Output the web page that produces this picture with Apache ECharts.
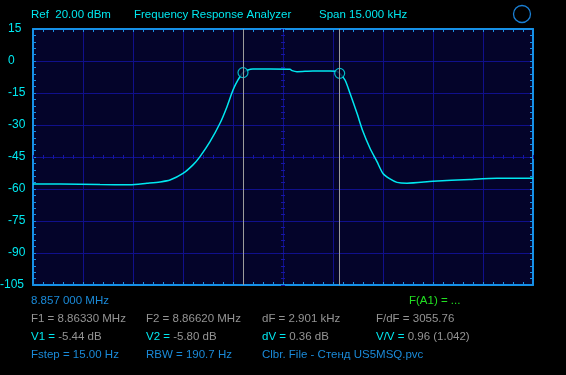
<!DOCTYPE html>
<html>
<head>
<meta charset="utf-8">
<script src="https://cdn.jsdelivr.net/npm/echarts@6/dist/echarts.min.js"></script>
<style>
html,body{margin:0;padding:0;background:#000;}
#c{width:566px;height:375px;}
</style>
</head>
<body>
<div id="c"></div>
<script>
// Frequency offset from 8.857 000 MHz start, in kHz (span 15 kHz)
const freqKHz = [0,0.81,2.01,2.91,3.42,3.81,4.11,4.5,4.8,5.01,5.31,5.61,5.82,6.0,6.15,6.3,6.45,6.6,7.11,7.71,7.77,7.92,8.4,8.91,9.1,9.2,9.36,9.51,9.72,9.9,10.11,10.32,10.5,10.71,10.92,11.22,12.0,13.11,13.92,15];
const levelDb = [-57.6,-57.7,-57.9,-58.0,-57.3,-56.7,-55.8,-52.7,-48.7,-44.8,-37.8,-29.2,-21.4,-13.6,-8.9,-5.44,-4.2,-3.8,-3.8,-3.9,-4.5,-5.0,-4.7,-4.7,-4.8,-5.8,-8.9,-15.1,-24.5,-33.1,-40.9,-47.2,-52.7,-55.3,-56.9,-57.3,-56.4,-55.5,-55.0,-55.0];
const markerFreq = [6.3, 9.2];
const markerLevel = [-5.44, -5.80];
const yTicks = [15,0,-15,-30,-45,-60,-75,-90,-105];
const xRange = [0, 15];

const BORDER = '#1690e6';
const GRIDC = '#10108c';
const CROSS = '#1616a8';
const CYAN = '#00e8f0';
const GREY = '#949494';
const BLUE = '#1a8ad8';
const GREEN = '#22e022';
const FONTF = 'Liberation Sans, Arial, sans-serif';
const FONT = '11.5px ' + FONTF;

const yMin = yTicks[yTicks.length-1], yMax = yTicks[0], yStep = yTicks[0]-yTicks[1];
const xStep = (xRange[1]-xRange[0])/10;
const yMinor = yStep/5, xMinor = xStep/5;

function tickX(extra){
  return Object.assign({
    type:'value', min:xRange[0], max:xRange[1], interval:xMinor,
    axisLabel:{show:false}, splitLine:{show:false},
    axisLine:{show:true, onZero:false, lineStyle:{color:BORDER, width:2}},
    axisTick:{show:true, inside:true, length:3, lineStyle:{color:BORDER, width:1}}
  }, extra);
}
function tickY(extra){
  return Object.assign({
    type:'value', min:yMin, max:yMax, interval:yMinor,
    axisLabel:{show:false}, splitLine:{show:false},
    axisLine:{show:true, onZero:false, lineStyle:{color:BORDER, width:2}},
    axisTick:{show:true, inside:true, length:3, lineStyle:{color:BORDER, width:1}}
  }, extra);
}
const crossLine = {show:false, onZero:false};

const chart = echarts.init(document.getElementById('c'), null, {renderer:'canvas'});
chart.setOption({
  backgroundColor:'#000',
  animation:false,
  grid:{left:33, right:33, top:29, bottom:90, show:true, backgroundColor:'#04042a', borderWidth:0,
    containLabel:false, outerBoundsMode:'none'},
  xAxis:[
    {type:'value', min:xRange[0], max:xRange[1], interval:xStep, position:'bottom',
      axisLabel:{show:false}, axisTick:{show:false}, axisLine:{show:false, onZero:false},
      splitLine:{show:true, lineStyle:{color:GRIDC, width:1}}},
    tickX({position:'bottom'}),
    tickX({position:'top'}),
    tickX({position:'bottom', offset:-128, axisLine:crossLine, axisTick:{show:true, inside:false, length:2, lineStyle:{color:CROSS}}}),
    tickX({position:'bottom', offset:-128, axisLine:crossLine, axisTick:{show:true, inside:true, length:2, lineStyle:{color:CROSS}}})
  ],
  yAxis:[
    {type:'value', min:yMin, max:yMax, interval:yStep, position:'left',
      axisTick:{show:false}, axisLine:{show:false, onZero:false},
      splitLine:{show:true, lineStyle:{color:GRIDC, width:1}},
      axisLabel:{show:true, color:CYAN, fontFamily:FONTF, fontSize:12, align:'right', margin:8,
        formatter:function(v){ return v <= -100 ? '{w|' + v + '}' : '{n|' + v + '}'; },
        rich:{
          w:{color:CYAN, fontFamily:FONTF, fontSize:12, width:25, align:'left'},
          n:{color:CYAN, fontFamily:FONTF, fontSize:12, width:17, align:'left'}
        }}},
    tickY({position:'left'}),
    tickY({position:'right'}),
    tickY({position:'left', offset:-250, axisLine:crossLine, axisTick:{show:true, inside:false, length:2, lineStyle:{color:CROSS}}}),
    tickY({position:'left', offset:-250, axisLine:crossLine, axisTick:{show:true, inside:true, length:2, lineStyle:{color:CROSS}}})
  ],
  series:[
    {
      type:'line', xAxisIndex:0, yAxisIndex:0,
      data: freqKHz.map((f,i)=>[f, levelDb[i]]),
      showSymbol:false, smooth:0.25,
      lineStyle:{color:CYAN, width:1.5}, z:3
    },
    {
      type:'scatter', xAxisIndex:0, yAxisIndex:0,
      data: markerFreq.map((f,i)=>[f, markerLevel[i]]),
      symbol:'circle', symbolSize:10,
      itemStyle:{color:'#04042a', borderColor:CYAN, borderWidth:1.2},
      z:4,
      markLine:{
        silent:true, symbol:['none','none'], label:{show:false},
        lineStyle:{color:'#9c9c9c', type:'solid', width:1},
        data: markerFreq.map(f=>({xAxis:f}))
      }
    }
  ],
  graphic:[
    {type:'text', left:31, top:9, style:{text:'Ref  20.00 dBm', fill:CYAN, font:FONT}},
    {type:'text', left:134, top:9, style:{text:'Frequency Response Analyzer', fill:CYAN, font:FONT}},
    {type:'text', left:319, top:9, style:{text:'Span 15.000 kHz', fill:CYAN, font:FONT}},
    {type:'circle', shape:{cx:522, cy:14, r:8.5}, style:{fill:'none', stroke:'#1a7fd4', lineWidth:1.3}},

    {type:'text', left:31, top:295, style:{text:'8.857 000 MHz', fill:BLUE, font:FONT}},
    {type:'text', left:409, top:295, style:{text:'F(A1) = ...', fill:GREEN, font:FONT}},

    {type:'text', left:31, top:313, style:{text:'F1 = 8.86330 MHz', fill:GREY, font:FONT}},
    {type:'text', left:146, top:313, style:{text:'F2 = 8.86620 MHz', fill:GREY, font:FONT}},
    {type:'text', left:262, top:313, style:{text:'dF = 2.901 kHz', fill:GREY, font:FONT}},
    {type:'text', left:376, top:313, style:{text:'F/dF = 3055.76', fill:GREY, font:FONT}},

    {type:'text', left:31, top:331, style:{text:'{k|V1 =} {v|-5.44 dB}', font:FONT,
      rich:{k:{fill:CYAN, font:FONT}, v:{fill:GREY, font:FONT}}}},
    {type:'text', left:146, top:331, style:{text:'{k|V2 =} {v|-5.80 dB}', font:FONT,
      rich:{k:{fill:CYAN, font:FONT}, v:{fill:GREY, font:FONT}}}},
    {type:'text', left:262, top:331, style:{text:'{k|dV =} {v|0.36 dB}', font:FONT,
      rich:{k:{fill:CYAN, font:FONT}, v:{fill:GREY, font:FONT}}}},
    {type:'text', left:376, top:331, style:{text:'{k|V/V =} {v|0.96 (1.042)}', font:FONT,
      rich:{k:{fill:CYAN, font:FONT}, v:{fill:GREY, font:FONT}}}},

    {type:'text', left:31, top:349, style:{text:'Fstep = 15.00 Hz', fill:BLUE, font:FONT}},
    {type:'text', left:146, top:349, style:{text:'RBW = 190.7 Hz', fill:BLUE, font:FONT}},
    {type:'text', left:262, top:349, style:{text:'Clbr. File - Стенд US5MSQ.pvc', fill:BLUE, font:FONT}}
  ]
});
</script>
</body>
</html>
